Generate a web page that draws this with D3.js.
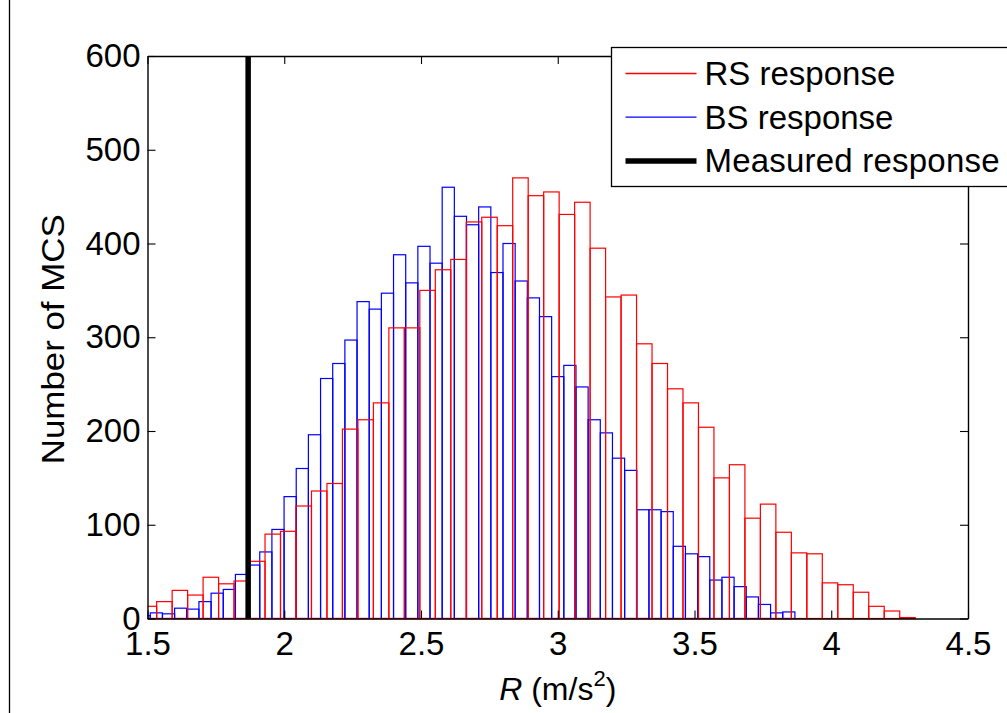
<!DOCTYPE html>
<html>
<head>
<meta charset="utf-8">
<script src="https://cdn.jsdelivr.net/npm/d3@7"></script>
<style>
body { margin: 0; background: #fff; }
svg text { font-family: "Liberation Sans", Arial, Helvetica, sans-serif; fill: #000; }
</style>
</head>
<body>
<div class="canva"></div>
<script>
// RS response histogram (red), bins start below 1.5 and get clipped by the axis
const rsStart = 1.4769
const rsWidth = 0.0566
const rsCounts = [13, 18, 30, 25, 44, 37, 40, 61, 90, 93,
                  120, 136, 144, 202, 212, 230, 310, 310, 350, 372,
                  383, 423, 428, 419, 470, 451, 455, 431, 444, 395,
                  343, 345, 293, 272, 245, 230, 204, 150, 164, 107,
                  122, 92, 70, 69, 38, 36, 28, 13, 8, 1]

// BS response histogram (blue)
const bsStart = 1.4657
const bsWidth = 0.04447
const bsCounts = [3, 6, 5, 11, 10, 18, 27, 31, 47, 57,
                  71, 95, 130, 160, 196, 256, 272, 297, 338, 330,
                  347, 388, 358, 397, 379, 460, 429, 420, 439, 369,
                  400, 360, 342, 322, 258, 270, 247, 212, 198, 171,
                  158, 116, 116, 114, 77, 69, 66, 41, 44, 34,
                  23, 15, 6, 7]

const measured = 1.868
const xTicks = [1.5, 2, 2.5, 3, 3.5, 4, 4.5]
const yTicks = [0, 100, 200, 300, 400, 500, 600]
const legendNames = ['RS response', 'BS response', 'Measured response']
const legendColors = ['#ff0000', '#0000ff', '#000000']

const width = 1007
const height = 713
const svg = d3.select('.canva').append('svg')
              .attr('width', width)
              .attr('height', height)

//Margin
const margin = {top: 56, right: 39, bottom: 94.5, left: 147.5}
const plotW = width - margin.left - margin.right
const plotH = height - margin.top - margin.bottom

const x = d3.scaleLinear().domain([1.5, 4.5]).range([margin.left, margin.left + plotW])
const y = d3.scaleLinear().domain([0, 600]).range([margin.top + plotH, margin.top])

// page border line on the far left
svg.append('line')
   .attr('x1', 9.5).attr('x2', 9.5)
   .attr('y1', 0).attr('y2', height)
   .attr('stroke', '#000').attr('stroke-width', 1.3)

svg.append('clipPath').attr('id', 'plotClip')
   .append('rect')
   .attr('x', margin.left).attr('y', margin.top - 4)
   .attr('width', plotW).attr('height', plotH + 6)

const bars = svg.append('g').attr('clip-path', 'url(#plotClip)')

function drawHist(counts, start, w, color) {
  bars.append('g')
      .selectAll('rect')
      .data(counts)
      .enter()
      .append('rect')
      .attr('x', (d, i) => x(start + i * w))
      .attr('width', (d, i) => x(start + (i + 1) * w) - x(start + i * w))
      .attr('y', d => y(d))
      .attr('height', d => y(0) - y(d))
      .attr('fill', 'none')
      .attr('stroke', color)
      .attr('stroke-width', 1.2)
}

drawHist(bsCounts, bsStart, bsWidth, legendColors[1])
drawHist(rsCounts, rsStart, rsWidth, legendColors[0])

// measured response
svg.append('line')
   .attr('x1', x(measured)).attr('x2', x(measured))
   .attr('y1', y(0)).attr('y2', y(600))
   .attr('stroke', '#000').attr('stroke-width', 5.5)

// axes (ticks point inward, matlab style)
function styleAxis(g) {
  g.select('.domain').attr('stroke', '#000').attr('stroke-width', 1.4)
  g.selectAll('.tick line').attr('stroke', '#000').attr('stroke-width', 1.1)
  g.selectAll('text').attr('font-size', 33).attr('fill', '#000')
}

svg.append('g')
   .attr('transform', `translate(${margin.left},0)`)
   .call(d3.axisLeft(y).tickValues(yTicks).tickSize(-8).tickSizeOuter(0).tickPadding(7))
   .call(styleAxis)

svg.append('g')
   .attr('transform', `translate(${margin.left + plotW},0)`)
   .call(d3.axisRight(y).tickValues(yTicks).tickSize(-8).tickSizeOuter(0).tickFormat(''))
   .call(styleAxis)

svg.append('g')
   .attr('transform', `translate(0,${margin.top + plotH})`)
   .call(d3.axisBottom(x).tickValues(xTicks).tickSize(-8).tickSizeOuter(0).tickPadding(13)
           .tickFormat(d3.format('')))
   .call(styleAxis)

svg.append('g')
   .attr('transform', `translate(0,${margin.top})`)
   .call(d3.axisTop(x).tickValues(xTicks).tickSize(-8).tickSizeOuter(0).tickFormat(''))
   .call(styleAxis)

// axis labels
const xLabel = svg.append('text')
   .attr('x', margin.left + plotW / 2)
   .attr('y', 700)
   .attr('text-anchor', 'middle')
   .attr('font-size', 32)
xLabel.append('tspan').attr('font-style', 'italic').text('R')
xLabel.append('tspan').text(' (m/s')
xLabel.append('tspan').attr('font-size', 22).attr('dy', -14).text('2')
xLabel.append('tspan').attr('dy', 14).text(')')

svg.append('text')
   .attr('transform', `translate(64,${margin.top + plotH / 2 + 2}) rotate(-90)`)
   .attr('text-anchor', 'middle')
   .attr('font-size', 31)
   .attr('textLength', 250)
   .attr('lengthAdjust', 'spacingAndGlyphs')
   .text('Number of MCS')

// legend
const legend = svg.append('g').attr('transform', 'translate(611.5,47.5)')
legend.append('rect')
      .attr('width', 400).attr('height', 139)
      .attr('fill', '#fff').attr('stroke', '#000').attr('stroke-width', 1.3)

const rows = legend.selectAll('g.row')
      .data(legendNames)
      .enter()
      .append('g')
      .attr('class', 'row')
      .attr('transform', (d, i) => `translate(0,${26 + i * 43.7})`)

rows.append('line')
    .attr('x1', 14).attr('x2', 85)
    .attr('stroke', (d, i) => legendColors[i])
    .attr('stroke-width', (d, i) => i == 2 ? 5.5 : 1.3)

rows.append('text')
    .attr('x', 93)
    .attr('y', 11.5)
    .attr('font-size', 33)
    .attr('textLength', d => d.length > 12 ? 295 : null)
    .text(d => d)
</script>
</body>
</html>
